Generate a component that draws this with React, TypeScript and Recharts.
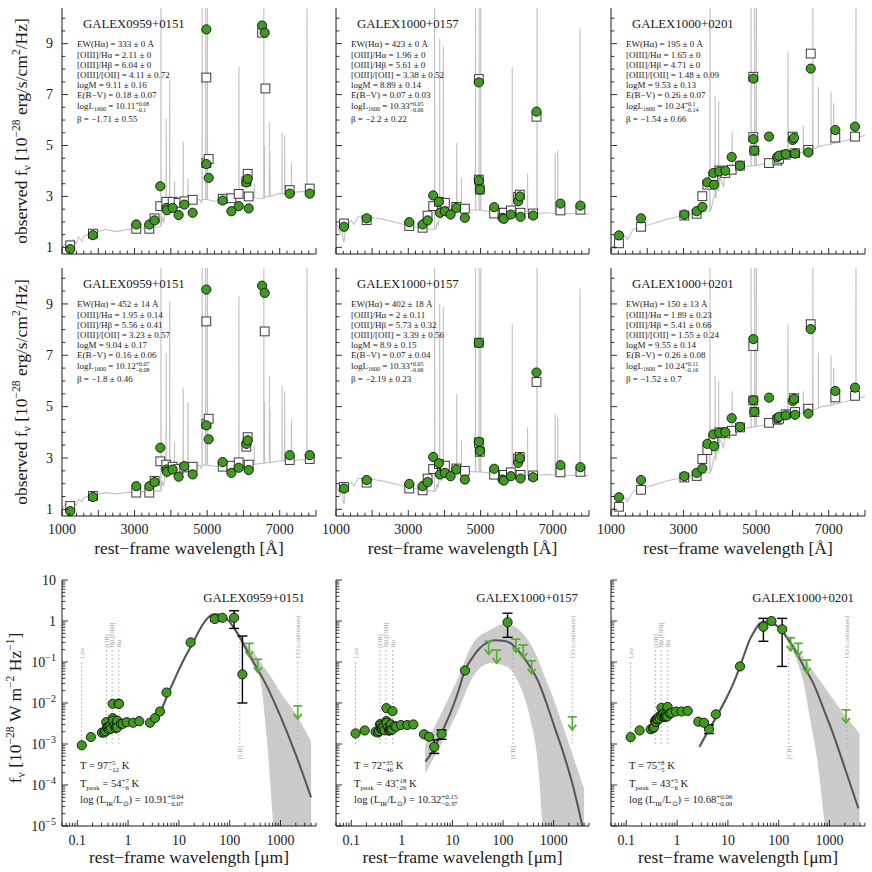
import React from 'react';
import { ComposedChart, Line, Area, Scatter, XAxis, YAxis, ReferenceLine, ErrorBar } from 'recharts';

const SERIF = "'Liberation Serif', 'Times New Roman', serif";
const INK = '#1a1a1a';
const GREEN = '#3f9a1f';
const LIMIT_GREEN = '#58ad33';
const SPEC_GRAY = '#c2c2c2';

// plot boxes of the 3x3 grid (pixels)
const COLS = [{ x: 62, w: 254 }, { x: 336, w: 253 }, { x: 611, w: 254 }];
const ROWS = [{ y: 8, h: 246 }, { y: 268, h: 248 }, { y: 580, h: 246 }];
const ML = 56, MR = 6, MT = 6, MB = 32;

const NAMES = ['GALEX0959+0151', 'GALEX1000+0157', 'GALEX1000+0201'];

// ---- optical axes
const OPT_X_LABELS = [1000, 3000, 5000, 7000];
const OPT_Y_LABELS = [1, 3, 5, 7, 9];
const OPT_X_TICKS: number[] = [];
for (let v = 1000; v <= 8000; v += 200) OPT_X_TICKS.push(v);
const OPT_Y_TICKS: number[] = [];
for (let v = 1; v <= 10; v += 0.5) OPT_Y_TICKS.push(v);

// ---- far-IR axes
const LOG_X_LABELS = [0.1, 1, 10, 100, 1000];
const LOG_Y_LABELS = [1e-5, 1e-4, 1e-3, 1e-2, 1e-1, 1, 10];
const logTicks = (lo: number, hi: number) => {
  const t: number[] = [];
  for (let e = Math.floor(Math.log10(lo)); e <= Math.ceil(Math.log10(hi)); e++) {
    for (let m = 1; m < 10; m++) {
      const v = +(m * Math.pow(10, e)).toPrecision(6);
      if (v >= lo - 1e-12 && v <= hi + 1e-12) t.push(v);
    }
  }
  return t;
};
const LOG_X_TICKS = logTicks(0.05, 5000);
const LOG_Y_TICKS = logTicks(1e-5, 10);

// ---- observed photometry [rest Å, 1e-28 erg/s/cm2/Hz]
const OBS_0959 = [[1226, 0.93], [1852, 1.48], [3047, 1.9], [3406, 1.9], [3552, 2.06], [3709, 3.4], [3874, 2.55], [3893, 2.46], [4049, 2.55], [4214, 2.27], [4371, 2.68], [4601, 2.36], [4978, 9.56], [4978, 4.27], [5042, 3.73], [5428, 2.84], [5668, 2.42], [5869, 2.62], [6081, 3.55], [6117, 3.69], [6145, 2.53], [6514, 9.71], [6586, 9.43], [7276, 3.11], [7828, 3.11]];
const OBS_0157 = [[1221, 1.81], [1848, 2.14], [3027, 1.99], [3396, 1.9], [3534, 2.06], [3689, 3.04], [3847, 2.79], [3875, 2.36], [4013, 2.42], [4170, 2.29], [4329, 2.55], [4565, 2.16], [4952, 7.48], [4952, 3.63], [4980, 3.27], [5376, 2.58], [5607, 2.16], [5644, 2.12], [5838, 2.29], [6039, 2.81], [6086, 3.0], [6105, 2.2], [6454, 2.25], [6548, 6.33], [7211, 2.72], [7763, 2.64]];
const OBS_0201 = [[1220, 1.47], [1827, 2.14], [3021, 2.29], [3361, 2.42], [3517, 2.59], [3655, 3.55], [3820, 3.92], [3839, 3.46], [3985, 3.98], [4150, 4.01], [4326, 4.55], [4555, 4.21], [4922, 7.63], [4922, 5.25], [4950, 4.8], [5355, 5.35], [5584, 4.55], [5630, 4.6], [5815, 4.66], [6008, 5.22], [6044, 5.3], [6072, 4.68], [6438, 4.73], [6504, 8.02], [7182, 5.61], [7725, 5.74]];

// ---- model photometry (open squares), row A = top, row B = middle
const MODEL_0959_A = [[1226, 1.08], [1852, 1.54], [3047, 1.73], [3406, 1.73], [3552, 2.14], [3709, 2.62], [3874, 2.79], [4049, 2.79], [4214, 2.75], [4371, 2.81], [4601, 2.87], [4978, 7.67], [4978, 4.31], [5042, 4.47], [5428, 2.91], [5668, 2.93], [5869, 3.1], [6081, 3.59], [6117, 3.89], [6145, 3.0], [6514, 9.43], [6606, 7.24], [7276, 3.25], [7828, 3.31]];
const MODEL_0959_B = [[1226, 1.13], [1852, 1.52], [3047, 1.65], [3406, 1.65], [3552, 2.11], [3709, 2.87], [3874, 2.74], [4049, 2.66], [4214, 2.57], [4371, 2.63], [4601, 2.66], [4978, 8.32], [4978, 4.33], [5042, 4.53], [5428, 2.66], [5668, 2.7], [5869, 2.83], [6081, 3.44], [6117, 3.81], [6145, 2.74], [6586, 7.93], [7276, 2.92], [7828, 2.96]];
const MODEL_0157_A = [[1221, 1.94], [1848, 2.07], [3027, 1.84], [3396, 1.77], [3534, 2.25], [3689, 2.62], [3847, 2.79], [4013, 2.75], [4329, 2.59], [4565, 2.52], [4952, 7.61], [4952, 3.66], [4980, 3.27], [5376, 2.33], [5607, 2.36], [5644, 2.36], [5838, 2.45], [6039, 2.98], [6086, 3.07], [6105, 2.36], [6454, 2.33], [6548, 6.13], [7211, 2.45], [7763, 2.48]];
const MODEL_0157_B = [[1221, 1.87], [1848, 2.04], [3027, 1.81], [3396, 1.74], [3534, 2.2], [3689, 2.57], [3847, 2.76], [4013, 2.7], [4329, 2.59], [4565, 2.5], [4952, 7.49], [4952, 3.6], [4980, 3.24], [5376, 2.35], [5644, 2.34], [5838, 2.44], [6039, 2.98], [6086, 3.04], [6105, 2.34], [6454, 2.32], [6548, 5.96], [7211, 2.44], [7763, 2.46]];
const MODEL_0201_A = [[1220, 1.16], [1827, 1.81], [3021, 2.25], [3361, 2.32], [3517, 3.01], [3655, 3.46], [3820, 3.79], [3985, 4.02], [4150, 3.92], [4326, 4.05], [4555, 4.21], [4922, 7.7], [4922, 5.33], [4950, 4.8], [5355, 4.31], [5584, 4.41], [5630, 4.48], [5815, 4.64], [6008, 5.35], [6072, 4.7], [6438, 4.83], [6504, 8.61], [7182, 5.31], [7725, 5.35]];
const MODEL_0201_B = [[1220, 1.1], [1827, 1.76], [3021, 2.24], [3361, 2.3], [3517, 2.96], [3655, 3.31], [3820, 3.71], [3985, 4.0], [4150, 3.96], [4326, 4.06], [4555, 4.19], [4922, 7.36], [4922, 5.24], [4950, 4.79], [5355, 4.37], [5584, 4.49], [5630, 4.53], [5815, 4.7], [6044, 5.33], [6072, 4.79], [6438, 4.92], [6504, 8.21], [7182, 5.36], [7725, 5.42]];

// ---- model spectra: continuum [Å, f] and emission lines [Å, base, peak]
const CONT_0959_A = [[1000, 1.0], [1100, 1.15], [1150, 0.9], [1216, 1.25], [1260, 1.0], [1300, 1.3], [1400, 1.15], [1450, 1.4], [1550, 1.25], [1600, 1.45], [1850, 1.58], [2200, 1.7], [2500, 1.62], [2800, 1.7], [3050, 1.73], [3400, 1.77], [3650, 1.8], [3700, 1.82], [3760, 2.2], [3800, 1.95], [3850, 2.5], [3880, 2.3], [3920, 2.65], [3960, 2.45], [4000, 2.72], [4080, 2.55], [4150, 2.78], [4300, 2.7], [4400, 2.8], [4800, 2.88], [4840, 2.75], [4900, 2.88], [5200, 2.81], [5500, 2.85], [6100, 2.95], [6520, 2.9], [6620, 3.0], [7000, 3.12], [7500, 3.18], [8000, 3.25]];
const CONT_0959_B = [[1000, 1.05], [1100, 1.2], [1150, 0.9], [1216, 1.25], [1260, 1.0], [1300, 1.3], [1400, 1.15], [1450, 1.4], [1550, 1.3], [1600, 1.45], [1850, 1.55], [2200, 1.65], [2500, 1.6], [2800, 1.66], [3050, 1.68], [3400, 1.7], [3700, 1.72], [3760, 2.1], [3800, 1.9], [3850, 2.4], [3880, 2.2], [3920, 2.55], [3960, 2.35], [4000, 2.58], [4080, 2.45], [4150, 2.62], [4400, 2.62], [4800, 2.72], [4840, 2.6], [4900, 2.72], [5200, 2.68], [5500, 2.62], [6000, 2.72], [6550, 2.8], [7000, 2.88], [7500, 2.92], [8000, 3.0]];
const CONT_0157 = [[1000, 1.96], [1060, 1.75], [1110, 1.55], [1160, 1.85], [1200, 1.3], [1222, 1.2], [1250, 1.6], [1313, 1.75], [1360, 1.95], [1424, 2.05], [1500, 1.9], [1608, 2.2], [1885, 2.2], [2345, 2.09], [2714, 1.96], [3082, 1.83], [3400, 1.75], [3700, 1.7], [3764, 1.72], [3800, 2.0], [3828, 1.85], [3880, 2.3], [3920, 2.1], [3966, 2.55], [4080, 2.35], [4150, 2.52], [4519, 2.49], [4980, 2.46], [5440, 2.36], [5901, 2.29], [6362, 2.33], [6822, 2.36], [7283, 2.33], [8000, 2.32]];
const CONT_0201 = [[1000, 0.8], [1064, 1.06], [1120, 0.95], [1156, 1.32], [1200, 1.1], [1240, 1.0], [1294, 1.39], [1400, 1.45], [1450, 1.3], [1615, 1.71], [2074, 1.9], [2534, 2.1], [2993, 2.25], [3452, 2.36], [3681, 2.42], [3760, 2.5], [3820, 2.9], [3865, 3.1], [3890, 2.9], [3911, 3.49], [3950, 3.2], [4000, 3.75], [4100, 3.4], [4150, 3.95], [4233, 4.06], [4417, 4.09], [4876, 4.21], [5336, 4.31], [5887, 4.57], [6438, 4.83], [6806, 5.0], [7357, 5.16], [8000, 5.4]];

const LINES_0959_A = [[3727, 1.82, 11], [3869, 2.5, 6.05], [3968, 2.6, 7.6], [4102, 2.6, 3.6], [4340, 2.72, 5.16], [4471, 2.8, 3.7], [4861, 2.85, 11], [4959, 2.88, 11], [5007, 2.88, 11], [5876, 2.93, 8.1], [6300, 2.95, 3.5], [6563, 2.95, 11], [6583, 2.95, 5.0], [6717, 3.0, 5.9], [6731, 3.0, 4.7], [7065, 3.1, 5.5], [7136, 3.1, 5.4], [7325, 3.15, 4.3], [7751, 3.2, 11]];
const LINES_0959_B = [[3727, 1.72, 11], [3869, 2.4, 7.08], [3968, 2.5, 9.1], [4102, 2.5, 3.6], [4340, 2.62, 5.75], [4471, 2.62, 5.17], [4861, 2.7, 11], [4959, 2.72, 11], [5007, 2.72, 11], [5876, 2.7, 9.3], [6300, 2.75, 3.5], [6563, 2.8, 11], [6583, 2.8, 5.2], [6717, 2.82, 6.2], [6731, 2.82, 4.8], [7065, 2.88, 5.8], [7136, 2.88, 5.6], [7325, 2.9, 4.5], [7751, 2.95, 11]];
const LINES_0157_A = [[3727, 1.72, 11], [3869, 2.3, 9.2], [3968, 2.5, 8.9], [4340, 2.49, 5.1], [4471, 2.49, 3.7], [4861, 2.46, 11], [4959, 2.46, 11], [5007, 2.46, 11], [5876, 2.29, 8.07], [6300, 2.33, 3.9], [6563, 2.33, 11], [7065, 2.33, 4.7], [7136, 2.33, 4.8], [7751, 2.32, 9.6]];
const LINES_0157_B = [[3727, 1.72, 11], [3869, 2.3, 9.0], [3968, 2.5, 8.9], [4340, 2.49, 5.5], [4471, 2.49, 3.7], [4861, 2.46, 11], [4959, 2.46, 11], [5007, 2.46, 11], [5876, 2.29, 8.2], [6300, 2.33, 4.2], [6563, 2.33, 11], [7065, 2.33, 4.7], [7136, 2.33, 4.6], [7751, 2.32, 9.6]];
const LINES_0201_A = [[3727, 2.42, 11], [3869, 3.1, 6.93], [3968, 3.3, 6.74], [4340, 4.08, 5.56], [4861, 4.2, 11], [4959, 4.21, 11], [5007, 4.22, 11], [5876, 4.57, 8.7], [6300, 4.75, 5.8], [6563, 4.85, 11], [6717, 4.95, 7.3], [7065, 5.05, 7.12], [7136, 5.08, 6.66], [7751, 5.3, 11]];
const LINES_0201_B = [[3727, 2.42, 11], [3869, 3.1, 6.2], [3968, 3.3, 6.0], [4340, 4.08, 5.6], [4861, 4.2, 11], [4959, 4.21, 11], [5007, 4.22, 11], [5876, 4.57, 8.2], [6300, 4.75, 5.6], [6563, 4.85, 11], [6717, 4.95, 7.1], [7065, 5.05, 7.0], [7136, 5.08, 6.5], [7751, 5.3, 11]];

// ---- panel notes
const NOTES_0959_A = ['EW(Hα) = 333 ± 0 Å', '[OIII]/Hα = 2.11 ± 0', '[OIII]/Hβ = 6.04 ± 0', '[OIII]/[OII] = 4.11 ± 0.72', 'logM = 9.11 ± 0.16', 'E(B−V) = 0.18 ± 0.07', 'logL_{1600} = 10.11^{+0.08}_{−0.1}', 'β = −1.71 ± 0.55'];
const NOTES_0157_A = ['EW(Hα) = 423 ± 0 Å', '[OIII]/Hα = 1.96 ± 0', '[OIII]/Hβ = 5.61 ± 0', '[OIII]/[OII] = 3.38 ± 0.52', 'logM = 8.89 ± 0.14', 'E(B−V) = 0.07 ± 0.03', 'logL_{1600} = 10.33^{+0.05}_{−0.06}', 'β = −2.2 ± 0.22'];
const NOTES_0201_A = ['EW(Hα) = 195 ± 0 Å', '[OIII]/Hα = 1.65 ± 0', '[OIII]/Hβ = 4.71 ± 0', '[OIII]/[OII] = 1.48 ± 0.09', 'logM = 9.53 ± 0.13', 'E(B−V) = 0.26 ± 0.07', 'logL_{1600} = 10.24^{+0.1}_{−0.14}', 'β = −1.54 ± 0.66'];
const NOTES_0959_B = ['EW(Hα) = 452 ± 14 Å', '[OIII]/Hα = 1.95 ± 0.14', '[OIII]/Hβ = 5.56 ± 0.41', '[OIII]/[OII] = 3.23 ± 0.57', 'logM = 9.04 ± 0.17', 'E(B−V) = 0.16 ± 0.06', 'logL_{1600} = 10.12^{+0.07}_{−0.08}', 'β = −1.8 ± 0.46'];
const NOTES_0157_B = ['EW(Hα) = 402 ± 18 Å', '[OIII]/Hα = 2 ± 0.11', '[OIII]/Hβ = 5.73 ± 0.32', '[OIII]/[OII] = 3.39 ± 0.56', 'logM = 8.9 ± 0.15', 'E(B−V) = 0.07 ± 0.04', 'logL_{1600} = 10.33^{+0.05}_{−0.06}', 'β = −2.19 ± 0.23'];
const NOTES_0201_B = ['EW(Hα) = 150 ± 13 Å', '[OIII]/Hα = 1.89 ± 0.23', '[OIII]/Hβ = 5.41 ± 0.66', '[OIII]/[OII] = 1.55 ± 0.24', 'logM = 9.55 ± 0.14', 'E(B−V) = 0.26 ± 0.08', 'logL_{1600} = 10.24^{+0.11}_{−0.16}', 'β = −1.52 ± 0.7'];

// ---- far-IR: extra photometry beyond 0.8 µm [µm, 1e-28 W/m2/Hz]
const IR_0959 = [[0.94, 3.4e-3], [1.26, 3.3e-3], [1.66, 3.6e-3], [2.7, 3.3e-3], [3.4, 4.3e-3], [4.25, 6.2e-3], [5.7, 0.018], [17, 0.3], [72, 1.2]];
const IR_0157 = [[0.96, 2.9e-3], [1.28, 2.9e-3], [1.69, 3.0e-3], [2.74, 1.73e-3], [3.44, 1.5e-3], [17.7, 0.062]];
const IR_0201 = [[0.95, 6.2e-3], [1.23, 6.2e-3], [1.62, 6.4e-3], [2.62, 3.5e-3], [3.39, 3.3e-3], [5.8, 5.3e-3], [17.3, 0.078], [72, 1.0]];
// [µm, value, low, high]
const IR_ERR_0959 = [[51, 1.12, 1.0, 1.25], [122, 1.2, 0.66, 1.78], [178, 0.05, 0.01, 0.43]];
const IR_ERR_0157 = [[4.37, 8.5e-4, 5.9e-4, 1.26e-3], [6.1, 1.75e-3, 1.3e-3, 2.2e-3], [123, 0.93, 0.4, 1.55]];
const IR_ERR_0201 = [[4.25, 2.3e-3, 1.8e-3, 2.9e-3], [50, 0.72, 0.32, 1.16], [117, 0.63, 0.078, 1.16]];
const LIMITS_0959 = [[243, 0.285], [356, 0.116], [2180, 0.0085]];
const LIMITS_0157 = [[52, 0.32], [75, 0.195], [180, 0.36], [251, 0.26], [368, 0.107], [2340, 4.6e-3]];
const LIMITS_0201 = [[172, 0.39], [243, 0.285], [355, 0.112], [2110, 6.8e-3]];

const CURVE_0959 = [[4, 0.005], [5, 0.009], [6, 0.016], [8, 0.035], [10, 0.065], [14, 0.15], [19, 0.3], [25, 0.58], [32, 0.95], [40, 1.3], [50, 1.47], [60, 1.44], [70, 1.36], [85, 1.15], [100, 0.95], [117, 0.72], [150, 0.45], [200, 0.236], [300, 0.095], [500, 0.031], [1000, 0.0047], [2000, 5.5e-4], [4000, 5e-5]];
const BAND_0959 = [[4, 0.0043, 0.0058], [6, 0.014, 0.018], [10, 0.058, 0.072], [19, 0.27, 0.33], [32, 0.88, 1.03], [50, 1.38, 1.56], [70, 1.27, 1.45], [100, 0.86, 1.04], [117, 0.64, 0.8], [150, 0.38, 0.53], [200, 0.19, 0.3], [300, 0.075, 0.17], [400, 0.036, 0.1], [540, 1.3e-3, 0.06], [725, 1e-5, 0.035], [1000, 1e-7, 0.018], [2000, 1e-7, 0.0055], [4000, 1e-7, 1.15e-3]];
const CURVE_0157 = [[2.9, 3.7e-4], [4, 6.5e-4], [6, 1.8e-3], [9, 5.5e-3], [12, 0.014], [18, 0.065], [25, 0.13], [35, 0.22], [50, 0.3], [70, 0.34], [100, 0.33], [140, 0.29], [200, 0.19], [340, 0.078], [500, 0.033], [720, 0.01], [1000, 3e-3], [1560, 6e-4], [2500, 8e-5], [3570, 1.2e-5], [4000, 6e-6]];
const BAND_0157 = [[2.9, 1.9e-4, 9.5e-4], [5.6, 8.5e-4, 4.7e-3], [12.3, 5.6e-3, 0.036], [25.7, 0.044, 0.29], [55, 0.093, 0.6], [117, 0.078, 0.87], [200, 0.032, 0.63], [339, 4.5e-3, 0.29], [500, 2.5e-4, 0.11], [630, 5e-6, 0.052], [1000, 1e-7, 0.0126], [1550, 1e-7, 2.6e-3], [2500, 1e-7, 4.5e-4], [4000, 1e-7, 8e-5]];
const CURVE_0201 = [[2.74, 8.5e-4], [4, 2e-3], [6, 4.7e-3], [9, 0.012], [12.8, 0.03], [17.3, 0.078], [22, 0.18], [27, 0.35], [35, 0.62], [43, 0.88], [57, 0.96], [80, 0.85], [106, 0.66], [150, 0.37], [195, 0.23], [300, 0.085], [480, 0.03], [800, 6.2e-3], [1175, 1.8e-3], [2000, 2.6e-4], [3700, 2.7e-5]];
const BAND_0201 = [[2.74, 7.5e-4, 9.7e-4], [6, 4.1e-3, 5.4e-3], [12.8, 0.026, 0.034], [17.3, 0.068, 0.088], [27, 0.31, 0.4], [43, 0.8, 0.97], [57, 0.88, 1.05], [106, 0.58, 0.74], [160, 0.28, 0.38], [225, 0.112, 0.21], [316, 0.028, 0.12], [417, 3.9e-3, 0.076], [562, 5e-4, 0.045], [794, 1.3e-5, 0.025], [1260, 1e-7, 0.011], [2000, 1e-7, 5e-3], [3900, 1e-7, 1.8e-3]];

const FIT_0959 = ['T = 97^{+5}_{−12} K', 'T_{peak} = 54^{+7}_{−6} K', 'log (L_{IR}/L_{⊙}) = 10.91^{+0.04}_{−0.07}'];
const FIT_0157 = ['T = 72^{+35}_{−46} K', 'T_{peak} = 43^{+18}_{−26} K', 'log (L_{IR}/L_{⊙}) = 10.32^{+0.15}_{−0.37}'];
const FIT_0201 = ['T = 75^{+8}_{−5} K', 'T_{peak} = 43^{+5}_{−6} K', 'log (L_{IR}/L_{⊙}) = 10.68^{+0.06}_{−0.09}'];

// marker lines [µm, top, label, side]
const MARKERS: [number, number, string, 'up' | 'down'][] = [[0.1216, 0.11, 'Lyα', 'up'], [0.3727, 0.2, '[OII]', 'up'], [0.4861, 0.2, 'Hβ,[OIII]', 'up'], [0.6563, 0.2, 'Hα', 'up'], [158, 0.45, '[CII]', 'down']];
const CO_LINE = [2180, 2340, 2190];

// ---------- text helpers
const estW = (s: string, fs: number) => {
  let w = 0;
  for (const ch of s) {
    if (/[0-9]/.test(ch)) w += 0.5;
    else if (ch === '.' || ch === ',') w += 0.25;
    else if (ch === '+' || ch === '−' || ch === '=') w += 0.564;
    else if (ch === ' ') w += 0.25;
    else if (/[A-Z]/.test(ch)) w += 0.68;
    else w += 0.46;
  }
  return w * fs;
};

function rich(s: string, fs: number) {
  const parts: { k: 't' | 'sup' | 'sub'; s: string }[] = [];
  let buf = '';
  for (let i = 0; i < s.length; i++) {
    const c = s[i];
    if ((c === '^' || c === '_') && s[i + 1] === '{') {
      if (buf) parts.push({ k: 't', s: buf });
      buf = '';
      const end = s.indexOf('}', i);
      parts.push({ k: c === '^' ? 'sup' : 'sub', s: s.slice(i + 2, end) });
      i = end;
    } else buf += c;
  }
  if (buf) parts.push({ k: 't', s: buf });
  const small = fs * 0.66;
  const supY = -fs * 0.38;
  const subY = fs * 0.25;
  let shift = 0;
  let pend = 0;
  const nodes: React.ReactNode[] = [];
  for (let i = 0; i < parts.length; i++) {
    const p = parts[i];
    if (p.k === 't') {
      nodes.push(<tspan key={i} dx={pend || undefined} dy={-shift || undefined} fontSize={fs}>{p.s}</tspan>);
      shift = 0; pend = 0;
    } else if (p.k === 'sup' && parts[i + 1] && parts[i + 1].k === 'sub') {
      const q = parts[i + 1];
      const wa = estW(p.s, small), wb = estW(q.s, small);
      const lowY = fs * 0.3;
      nodes.push(<tspan key={i} dx={pend || undefined} dy={supY - shift} fontSize={small}>{p.s}</tspan>);
      nodes.push(<tspan key={i + 'b'} dx={-wa} dy={lowY - supY} fontSize={small}>{q.s}</tspan>);
      shift = lowY; pend = Math.max(0, wa - wb);
      i++;
    } else {
      const target = p.k === 'sup' ? supY : subY;
      nodes.push(<tspan key={i} dx={pend || undefined} dy={target - shift} fontSize={small}>{p.s}</tspan>);
      shift = target; pend = 0;
    }
  }
  return nodes;
}

// ---------- ticks
type Side = 'bottom' | 'top' | 'left' | 'right';
function makeTick(side: Side, isMajor: (v: number) => boolean, label?: (v: number) => React.ReactNode, gap = 0) {
  return (p: any) => {
    const v = p.payload ? p.payload.value : 0;
    const x = Number(p.x), y = Number(p.y);
    const len = isMajor(v) ? 6 : 3.3;
    const dx = side === 'left' ? len : side === 'right' ? -len : 0;
    const dy = side === 'bottom' ? -len : side === 'top' ? len : 0;
    const lab = label ? label(v) : null;
    return (
      <g>
        <line x1={x} y1={y} x2={x + dx} y2={y + dy} stroke={INK} strokeWidth={0.9} />
        {lab !== null && side === 'bottom' && (
          <text x={x} y={y + gap} textAnchor="middle" fontFamily={SERIF} fontSize={14} fill={INK}>{lab}</text>
        )}
        {lab !== null && side === 'left' && (
          <text x={x - gap} y={y + 4.8} textAnchor="end" fontFamily={SERIF} fontSize={14} fill={INK}>{lab}</text>
        )}
      </g>
    );
  };
}
const near = (a: number, b: number) => Math.abs(a - b) < 1e-6;
const isDecade = (v: number) => near(Math.log10(v), Math.round(Math.log10(v)));
const optXMajor = (v: number) => v % 1000 === 0;
const optYMajor = (v: number) => OPT_Y_LABELS.some((l) => near(l, v));
const optXLabel = (v: number) => (OPT_X_LABELS.includes(v) ? String(v) : null);
const optYLabel = (v: number) => (OPT_Y_LABELS.some((l) => near(l, v)) ? String(Math.round(v)) : null);
const logXLabel = (v: number) => (LOG_X_LABELS.some((l) => near(l, v)) ? String(v) : null);
const logYLabel = (v: number) => {
  if (!LOG_Y_LABELS.some((l) => near(l / v, 1))) return null;
  const e = Math.round(Math.log10(v));
  if (e === 0) return '1';
  if (e === 1) return '10';
  return (<>10<tspan dy={-6} fontSize={10}>{'−' + Math.abs(e)}</tspan></>);
};

const Circle = (p: any) => <circle cx={p.cx} cy={p.cy} r={4.6} fill={GREEN} stroke="#111" strokeWidth={0.9} />;
const Square = (p: any) => <rect x={p.cx - 4.4} y={p.cy - 4.4} width={8.8} height={8.8} fill="#fff" stroke="#3a3a3a" strokeWidth={1} />;
const LimitArrow = (p: any) => {
  const { cx, cy } = p;
  return (
    <g stroke={LIMIT_GREEN} strokeWidth={1.7} fill="none">
      <line x1={cx - 4.5} y1={cy} x2={cx + 4.5} y2={cy} />
      <line x1={cx} y1={cy} x2={cx} y2={cy + 13} />
      <polyline points={`${cx - 4},${cy + 8} ${cx},${cy + 13} ${cx + 4},${cy + 8}`} />
    </g>
  );
};

const toXY = (a: number[][]) => a.map(([x, y]) => ({ x, y }));
function buildSpectrum(cont: number[][], lines: number[][]) {
  const pts = toXY(cont);
  lines.forEach(([x, base, top]) => {
    pts.push({ x: x - 4, y: base }, { x, y: top }, { x: x + 4, y: base });
  });
  return pts.sort((a, b) => a.x - b.x);
}

function OpticalPanel(props: { col: number; row: number; cont: number[][]; lines: number[][]; obs: number[][]; model: number[][] }) {
  const { col, row, cont, lines, obs, model } = props;
  const c = COLS[col], r = ROWS[row];
  const spec = buildSpectrum(cont, lines);
  const xLab = row === 1 ? optXLabel : undefined;
  const yLab = col === 0 ? optYLabel : undefined;
  return (
    <div style={{ position: 'absolute', left: c.x - ML, top: r.y - MT }}>
      <ComposedChart width={c.w + ML + MR} height={r.h + MT + MB} margin={{ top: MT, right: MR, bottom: 0, left: 0 }}>
        <XAxis dataKey="x" type="number" domain={[1000, 8000]} allowDataOverflow ticks={OPT_X_TICKS} interval={0}
          height={MB} tickLine={false} tickSize={0} tickMargin={0} axisLine={{ stroke: INK }}
          tick={makeTick('bottom', optXMajor, xLab, 18)} />
        <XAxis xAxisId="top" orientation="top" type="number" domain={[1000, 8000]} allowDataOverflow ticks={OPT_X_TICKS}
          interval={0} height={0} tickLine={false} tickSize={0} tickMargin={0} axisLine={{ stroke: INK }}
          tick={makeTick('top', optXMajor)} />
        <YAxis type="number" domain={[0.74, 10.4]} allowDataOverflow ticks={OPT_Y_TICKS} interval={0} width={ML}
          tickLine={false} tickSize={0} tickMargin={0} axisLine={{ stroke: INK }} tick={makeTick('left', optYMajor, yLab, 9)} />
        <YAxis yAxisId="right" orientation="right" type="number" domain={[0.74, 10.4]} allowDataOverflow ticks={OPT_Y_TICKS}
          interval={0} width={0} tickLine={false} tickSize={0} tickMargin={0} axisLine={{ stroke: INK }}
          tick={makeTick('right', optYMajor)} />
        <Line data={spec} dataKey="y" type="linear" stroke={SPEC_GRAY} strokeWidth={1.1} dot={false} isAnimationActive={false} />
        <Scatter data={toXY(model)} dataKey="y" shape={Square} isAnimationActive={false} />
        <Scatter data={toXY(obs)} dataKey="y" shape={Circle} isAnimationActive={false} />
      </ComposedChart>
    </div>
  );
}

function FirPanel(props: { col: number; obs: number[][]; ir: number[][]; irErr: number[][]; limits: number[][]; curve: number[][]; band: number[][]; co: number }) {
  const { col, obs, ir, irErr, limits, curve, band, co } = props;
  const c = COLS[col], r = ROWS[2];
  // optical photometry in µm and 1e-28 W m^-2 Hz^-1 (1 erg/s/cm2/Hz = 1e-3 W/m2/Hz)
  const pts = [...obs.map(([l, f]) => ({ x: l / 1e4, y: f / 1e3 })), ...toXY(ir)];
  const errPts = irErr.map(([x, y, lo, hi]) => ({ x, y, err: [y - lo, hi - y] }));
  const bandData = band.map(([x, lo, hi]) => ({ x, band: [lo, hi] }));
  const markers: [number, number, string, 'up' | 'down'][] = [...MARKERS, [co, 0.11, 'CO (continuum)', 'up']];
  return (
    <div style={{ position: 'absolute', left: c.x - ML, top: r.y - MT }}>
      <ComposedChart width={c.w + ML + MR} height={r.h + MT + MB} margin={{ top: MT, right: MR, bottom: 0, left: 0 }}>
        <XAxis dataKey="x" type="number" scale="log" domain={[0.05, 5000]} allowDataOverflow ticks={LOG_X_TICKS} interval={0}
          height={MB} tickLine={false} tickSize={0} tickMargin={0} axisLine={{ stroke: INK }}
          tick={makeTick('bottom', isDecade, logXLabel, 19)} />
        <XAxis xAxisId="top" orientation="top" type="number" scale="log" domain={[0.05, 5000]} allowDataOverflow ticks={LOG_X_TICKS}
          interval={0} height={0} tickLine={false} tickSize={0} tickMargin={0} axisLine={{ stroke: INK }}
          tick={makeTick('top', isDecade)} />
        <YAxis type="number" scale="log" domain={[1e-5, 10]} allowDataOverflow ticks={LOG_Y_TICKS} interval={0} width={ML}
          tickLine={false} tickSize={0} tickMargin={0} axisLine={{ stroke: INK }}
          tick={makeTick('left', isDecade, col === 0 ? logYLabel : undefined, 6)} />
        <YAxis yAxisId="right" orientation="right" type="number" scale="log" domain={[1e-5, 10]} allowDataOverflow ticks={LOG_Y_TICKS}
          interval={0} width={0} tickLine={false} tickSize={0} tickMargin={0} axisLine={{ stroke: INK }}
          tick={makeTick('right', isDecade)} />
        <Area data={bandData} dataKey="band" type="monotone" fill="#cbcbcb" fillOpacity={1} stroke="none" isAnimationActive={false} />
        {markers.map(([x, top, text, side]) => (
          <ReferenceLine key={text} segment={[{ x, y: 1e-3 }, { x, y: top }]} stroke="#a8a8a8" strokeWidth={0.8} strokeDasharray="2 2"
            ifOverflow="visible"
            label={(lp: any) => {
              const vb = lp.viewBox || {};
              const lx = (vb.x ?? 0) + 2.3;
              const ly = side === 'up' ? (vb.y ?? 0) - 2 : (vb.y ?? 0) + (vb.height ?? 0) + 2;
              return (
                <text x={lx} y={ly} transform={`rotate(-90 ${lx} ${ly})`} textAnchor={side === 'up' ? 'start' : 'end'}
                  fontFamily={SERIF} fontSize={6.5} fill="#a0a0a0">{text}</text>
              );
            }} />
        ))}
        <Line data={toXY(curve)} dataKey="y" type="monotone" stroke="#555" strokeWidth={2} dot={false} isAnimationActive={false} />
        <Scatter data={toXY(limits)} dataKey="y" shape={LimitArrow} isAnimationActive={false} />
        <Scatter data={errPts} dataKey="y" shape={Circle} isAnimationActive={false}>
          <ErrorBar dataKey="err" direction="y" width={5} stroke="#000" strokeWidth={1.4} />
        </Scatter>
        <Scatter data={pts} dataKey="y" shape={Circle} isAnimationActive={false} />
      </ComposedChart>
    </div>
  );
}

const OPT_NOTE_Y = [39, 49.5, 59.5, 69.5, 79.5, 89.5, 101, 113.5];
const FIT_NOTE_Y = [189, 207, 223];
const NOTE_FS = 9;
const FIT_FS = 10.6;

export default function App() {
  const optRows = [
    { row: 0, panels: [[CONT_0959_A, LINES_0959_A, OBS_0959, MODEL_0959_A, NOTES_0959_A], [CONT_0157, LINES_0157_A, OBS_0157, MODEL_0157_A, NOTES_0157_A], [CONT_0201, LINES_0201_A, OBS_0201, MODEL_0201_A, NOTES_0201_A]] },
    { row: 1, panels: [[CONT_0959_B, LINES_0959_B, OBS_0959, MODEL_0959_B, NOTES_0959_B], [CONT_0157, LINES_0157_B, OBS_0157, MODEL_0157_B, NOTES_0157_B], [CONT_0201, LINES_0201_B, OBS_0201, MODEL_0201_B, NOTES_0201_B]] },
  ];
  const fir = [
    { obs: OBS_0959, ir: IR_0959, err: IR_ERR_0959, lim: LIMITS_0959, curve: CURVE_0959, band: BAND_0959, fit: FIT_0959 },
    { obs: OBS_0157, ir: IR_0157, err: IR_ERR_0157, lim: LIMITS_0157, curve: CURVE_0157, band: BAND_0157, fit: FIT_0157 },
    { obs: OBS_0201, ir: IR_0201, err: IR_ERR_0201, lim: LIMITS_0201, curve: CURVE_0201, band: BAND_0201, fit: FIT_0201 },
  ];
  return (
    <div style={{ position: 'absolute', left: 0, top: 0, width: 872, height: 872, background: '#fff', overflow: 'hidden' }}>
      {optRows.map((r) => r.panels.map((p, col) => (
        <OpticalPanel key={`${r.row}-${col}`} col={col} row={r.row} cont={p[0] as number[][]} lines={p[1] as number[][]}
          obs={p[2] as number[][]} model={p[3] as number[][]} />
      )))}
      {fir.map((f, col) => (
        <FirPanel key={`fir-${col}`} col={col} obs={f.obs} ir={f.ir} irErr={f.err} limits={f.lim} curve={f.curve} band={f.band} co={CO_LINE[col]} />
      ))}
      <svg width={872} height={872} style={{ position: 'absolute', left: 0, top: 0, pointerEvents: 'none' }}>
        <g fontFamily={SERIF} fill={INK} style={{ whiteSpace: 'pre' }}>
          {[0, 1].map((row) => COLS.map((c, col) => (
            <g key={`t-${row}-${col}`}>
              <text x={c.x + 21} y={ROWS[row].y + 20} fontSize={12.8}>{NAMES[col]}</text>
              {(optRows[row].panels[col][4] as string[]).map((s, i) => (
                <text key={i} x={c.x + 15} y={ROWS[row].y + OPT_NOTE_Y[i]} fontSize={NOTE_FS}>{rich(s, NOTE_FS)}</text>
              ))}
            </g>
          )))}
          {COLS.map((c, col) => (
            <g key={`f-${col}`}>
              <text x={c.x + c.w - 11} y={ROWS[2].y + 22} fontSize={12.8} textAnchor="end">{NAMES[col]}</text>
              {fir[col].fit.map((s, i) => (
                <text key={i} x={c.x + 18} y={ROWS[2].y + FIT_NOTE_Y[i]} fontSize={FIT_FS}>{rich(s, FIT_FS)}</text>
              ))}
              <text x={c.x + c.w / 2} y={ROWS[1].y + ROWS[1].h + 38} fontSize={17.5} textAnchor="middle">rest−frame wavelength [Å]</text>
              <text x={c.x + c.w / 2} y={ROWS[2].y + ROWS[2].h + 37} fontSize={17.5} textAnchor="middle">rest−frame wavelength [μm]</text>
            </g>
          ))}
          {[0, 1].map((row) => (
            <text key={`yl-${row}`} transform={`translate(27 ${ROWS[row].y + ROWS[row].h / 2}) rotate(-90)`} textAnchor="middle" fontSize={17.5}>
              {rich('observed f_{ν}  [10^{−28} erg/s/cm^{2}/Hz]', 17.5)}
            </text>
          ))}
          <text transform={`translate(21 ${ROWS[2].y + ROWS[2].h / 2 + 5}) rotate(-90)`} textAnchor="middle" fontSize={17.5}>
            {rich('f_{ν}  [10^{−28} W m^{−2} Hz^{−1}]', 17.5)}
          </text>
        </g>
      </svg>
    </div>
  );
}
